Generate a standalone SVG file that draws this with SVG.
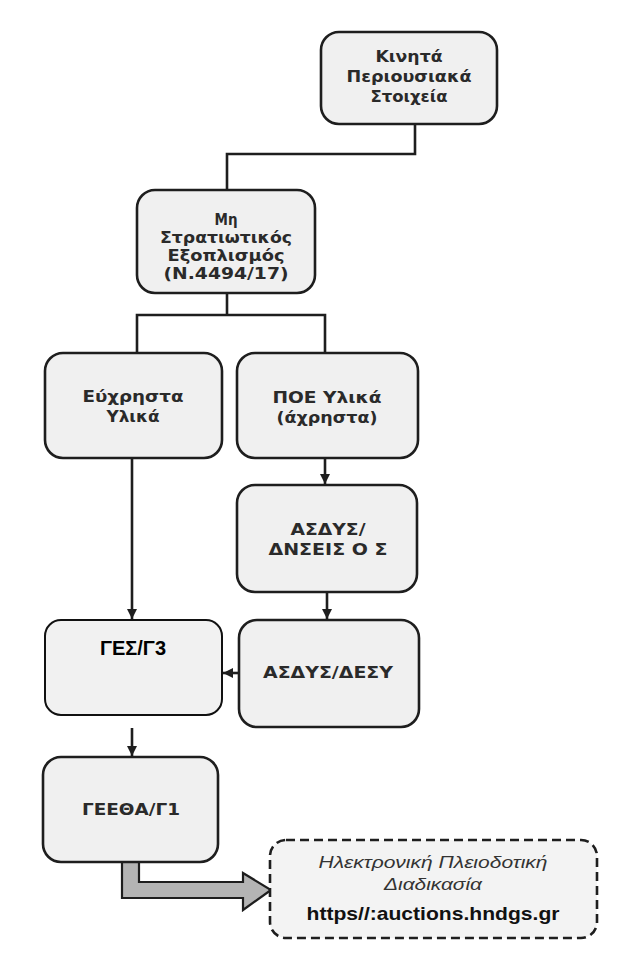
<svg xmlns="http://www.w3.org/2000/svg" width="641" height="954" viewBox="0 0 641 954">
<defs>
<style>
.box{fill:#f0f0f0;stroke:#1e1e1e;stroke-width:2.6}
.thin{fill:#f1f1f1;stroke:#111;stroke-width:2}
.t{font-family:"DejaVu Sans","Liberation Sans",sans-serif;font-weight:bold;font-size:15px;fill:#2a2a2a;text-anchor:middle}
.big{font-family:"Liberation Sans",Arial,sans-serif;font-weight:bold;font-size:20px;fill:#000;text-anchor:middle}
.it{font-family:"Liberation Sans",Arial,sans-serif;font-style:italic;font-size:16px;fill:#333;text-anchor:middle}
.url{font-family:"Liberation Sans",Arial,sans-serif;font-weight:bold;font-size:19px;fill:#111;text-anchor:middle}
.ln{fill:none;stroke:#1e1e1e;stroke-width:2.6}
</style>
<marker id="ah" viewBox="0 0 10 10" refX="10" refY="5" markerWidth="4" markerHeight="4" orient="auto" markerUnits="strokeWidth">
<path d="M0,0 L10,5 L0,10 z" fill="#1e1e1e"/>
</marker>
</defs>
<rect width="641" height="954" fill="#ffffff"/>

<g id="connectors">
<polyline class="ln" points="415,124 415,154 227,154 227,190"/>
<polyline class="ln" points="227,293 227,315"/>
<polyline class="ln" points="137,353 137,315 325,315 325,353"/>
<line class="ln" x1="325" y1="458" x2="325" y2="484" marker-end="url(#ah)"/>
<line class="ln" x1="327" y1="592" x2="327" y2="619" marker-end="url(#ah)"/>
<line class="ln" x1="239" y1="673" x2="223" y2="673" marker-end="url(#ah)"/>
<line class="ln" x1="132" y1="458" x2="132" y2="619" marker-end="url(#ah)"/>
<line class="ln" x1="132" y1="728" x2="132" y2="756" marker-end="url(#ah)"/>
<polygon points="122,862 122,898 243,898 243,910 271,890 243,873 243,882 139,882 139,862" fill="#b4b4b4" stroke="#1e1e1e" stroke-width="2.2" stroke-linejoin="miter"/>
</g>

<g id="node-kinita">
<rect class="box" x="321" y="32" width="176" height="92" rx="18"/>
<text class="t" x="409" y="62" textLength="67" lengthAdjust="spacingAndGlyphs">Κινητά</text>
<text class="t" x="409" y="82" textLength="125" lengthAdjust="spacingAndGlyphs">Περιουσιακά</text>
<text class="t" x="409" y="102" textLength="77" lengthAdjust="spacingAndGlyphs">Στοιχεία</text>
</g>

<g id="node-mi-stratiotikos">
<rect class="box" x="137" y="190" width="178" height="103" rx="18"/>
<text class="t" x="226" y="225" textLength="23" lengthAdjust="spacingAndGlyphs">Μη</text>
<text class="t" x="226" y="243" textLength="132" lengthAdjust="spacingAndGlyphs">Στρατιωτικός</text>
<text class="t" x="226" y="261" textLength="117" lengthAdjust="spacingAndGlyphs">Εξοπλισμός</text>
<text class="t" x="226" y="279" textLength="125" lengthAdjust="spacingAndGlyphs">(N.4494/17)</text>
</g>

<g id="node-euxrista">
<rect class="box" x="45" y="353" width="177" height="105" rx="18"/>
<text class="t" x="133" y="402" textLength="101" lengthAdjust="spacingAndGlyphs">Εύχρηστα</text>
<text class="t" x="133" y="422" textLength="53" lengthAdjust="spacingAndGlyphs">Υλικά</text>
</g>

<g id="node-poe">
<rect class="box" x="237" y="353" width="181" height="105" rx="18"/>
<text class="t" x="327" y="403" textLength="109" lengthAdjust="spacingAndGlyphs">ΠΟΕ Υλικά</text>
<text class="t" x="327" y="423" textLength="101" lengthAdjust="spacingAndGlyphs">(άχρηστα)</text>
</g>

<g id="node-asdys-dnseis">
<rect class="box" x="237" y="485" width="180" height="107" rx="18"/>
<text class="t" x="328" y="535" textLength="75" lengthAdjust="spacingAndGlyphs">ΑΣΔΥΣ/</text>
<text class="t" x="328" y="555" textLength="119" lengthAdjust="spacingAndGlyphs">ΔΝΣΕΙΣ Ο Σ</text>
</g>

<g id="node-asdys-desy">
<rect class="box" x="239" y="620" width="180" height="107" rx="18"/>
<text class="t" x="328" y="678" textLength="130" lengthAdjust="spacingAndGlyphs">ΑΣΔΥΣ/ΔΕΣΥ</text>
</g>

<g id="node-ges-g3">
<rect class="thin" x="45" y="620" width="177" height="95" rx="16"/>
<text class="big" x="133" y="655">ΓΕΣ/Γ3</text>
</g>

<g id="node-geetha-g1">
<rect class="box" x="43" y="757" width="175" height="105" rx="18"/>
<text class="t" x="131" y="815" textLength="98" lengthAdjust="spacingAndGlyphs">ΓΕΕΘΑ/Γ1</text>
</g>

<g id="node-auctions">
<rect x="270" y="840" width="327" height="98" rx="16" fill="#f3f3f3" stroke="#1e1e1e" stroke-width="2.6" stroke-dasharray="9,5"/>
<text class="it" x="433" y="868" textLength="229" lengthAdjust="spacingAndGlyphs">Ηλεκτρονική Πλειοδοτική</text>
<text class="it" x="433" y="890" textLength="98" lengthAdjust="spacingAndGlyphs">Διαδικασία</text>
<text class="url" x="433" y="920" textLength="253" lengthAdjust="spacingAndGlyphs">https//:auctions.hndgs.gr</text>
</g>
</svg>
